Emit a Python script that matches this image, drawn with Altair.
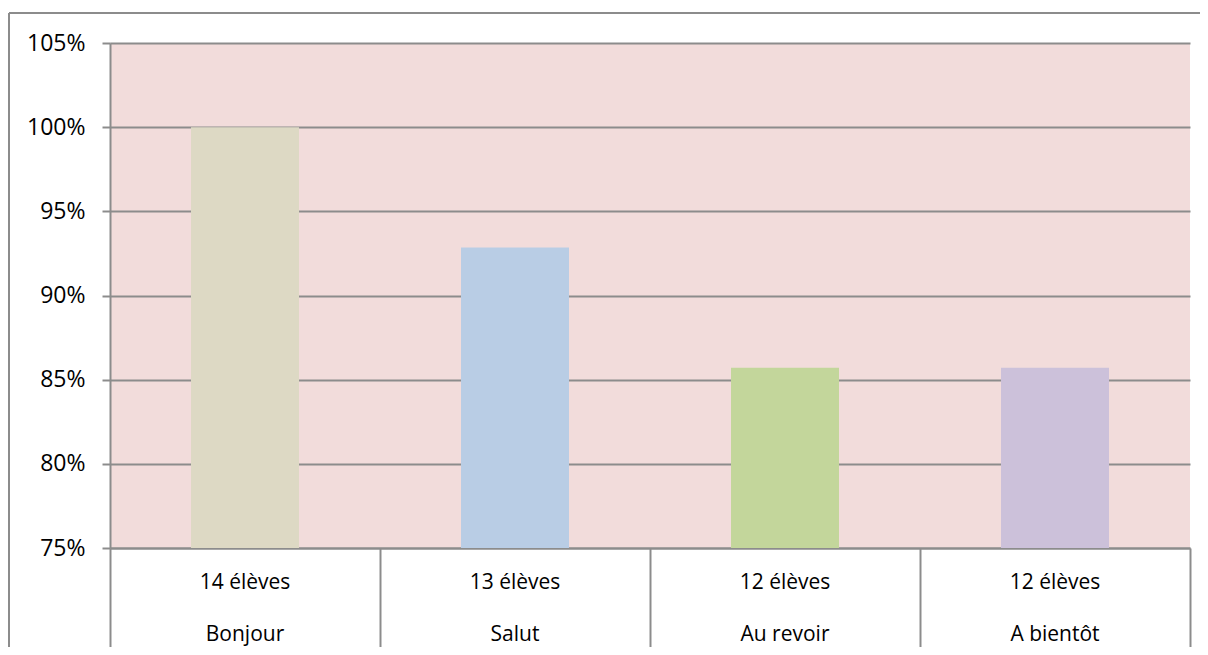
import altair as alt
import pandas as pd

categories = ["Bonjour", "Salut", "Au revoir", "A bientôt"]
counts = ["14 élèves", "13 élèves", "12 élèves", "12 élèves"]
shares = [1.0, 13 / 14, 12 / 14, 12 / 14]
colors = ["#DDD9C4", "#B9CDE5", "#C3D69B", "#CCC1DA"]
y_ticks = [0.75, 0.80, 0.85, 0.90, 0.95, 1.00, 1.05]

df = pd.DataFrame({"cat": categories, "count": counts, "share": shares})

FONT = "Open Sans"
GRAY = "#8C8C8C"

x_enc = alt.X(
    "cat:N",
    sort=categories,
    scale=alt.Scale(paddingInner=0, paddingOuter=0),
    axis=alt.Axis(
        title=None, labels=False, tickBand="extent", tickSize=102,
        tickColor=GRAY, tickWidth=2, domainColor=GRAY, domainWidth=2,
    ),
)

bars = alt.Chart(df).mark_bar(width=alt.RelativeBandSize(0.4)).encode(
    x=x_enc,
    y=alt.Y(
        "share:Q",
        scale=alt.Scale(domain=[0.75, 1.05], nice=False, zero=False),
        axis=alt.Axis(
            title=None, values=y_ticks, format=".0%", grid=True,
            gridColor=GRAY, gridWidth=2, tickColor=GRAY, tickWidth=2,
            tickSize=8, domainColor=GRAY, domainWidth=2, labelPadding=17,
            labelFont=FONT, labelFontSize=23, labelColor="#000000",
        ),
    ),
    y2=alt.datum(0.75),
    color=alt.Color("cat:N", sort=categories,
                    scale=alt.Scale(domain=categories, range=colors), legend=None),
)

row1 = alt.Chart(df).mark_text(font=FONT, fontSize=21, color="#000000",
                               baseline="middle").encode(
    x=alt.X("cat:N", sort=categories), y=alt.value(540), text="count:N")
row2 = alt.Chart(df).mark_text(font=FONT, fontSize=21, color="#000000",
                               baseline="middle").encode(
    x=alt.X("cat:N", sort=categories), y=alt.value(592), text="cat:N")

frame = alt.Data(values=[{"a": 1}])
border_top = alt.Chart(frame).mark_rule(stroke=GRAY, strokeWidth=2).encode(
    x=alt.value(-101), x2=alt.value(1100), y=alt.value(-30))
border_left = alt.Chart(frame).mark_rule(stroke=GRAY, strokeWidth=2).encode(
    x=alt.value(-101), y=alt.value(-30), y2=alt.value(700))

chart = alt.layer(bars, row1, row2, border_top, border_left).properties(
    width=1080, height=505,
    padding={"left": 102, "top": 35, "right": 10, "bottom": 99},
    autosize=alt.AutoSizeParams(type="none"),
).configure_view(fill="#F2DCDB", stroke=None)

chart.save("out.html", embed_options={"renderer": "svg", "actions": False})
